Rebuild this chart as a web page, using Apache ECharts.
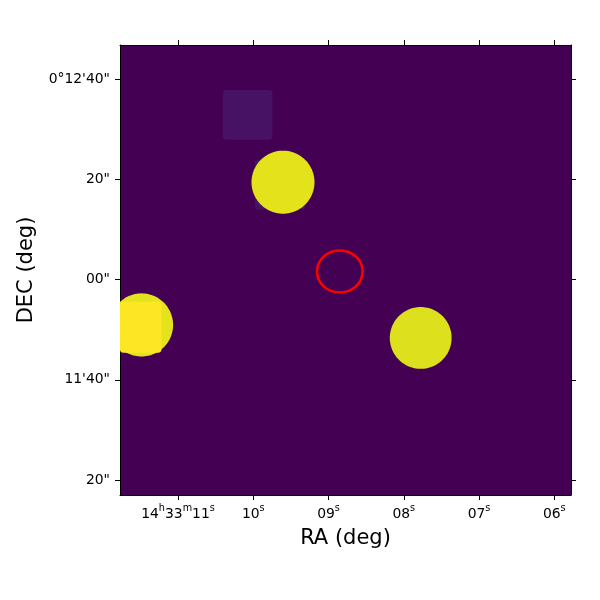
<!DOCTYPE html>
<html><head>
<meta charset="utf-8">
<title>RA / DEC cutout</title>
<script src="https://cdn.jsdelivr.net/npm/echarts@6/dist/echarts.min.js"></script>
<style>
html,body{margin:0;padding:0;background:#fff;}
#main{width:600px;height:600px;}
</style>
</head>
<body>
<div id="main"></div>
<script type="text/javascript">
// axis ticks: RA in seconds of time (14h33m..), DEC in arcsec above 0deg
var raTicks = [11, 10, 9, 8, 7, 6];
var raTickLabels = ['14h33m11s', '10s', '09s', '08s', '07s', '06s'];
var decTicks = [760, 740, 720, 700, 680];
var decTickLabels = ['0°12\'40"', '20"', '00"', '11\'40"', '20"'];
var raRange = [5.778, 11.771];
var decRange = [677.0, 766.85];

// bright sources (centre ra s, dec arcsec, radius arcsec)
var sourceRa = [9.605, 7.775, 11.485];
var sourceDec = [739.46, 708.36, 710.96];
var sourceRadius = [6.29, 6.17, 6.30];

// faint square patches (centre ra, dec, side arcsec)
var patchRa = [10.075, 9.645];
var patchDec = [752.9, 739.0];
var patchSide = [9.9, 10.0];

// saturated core patch
var coreRa = [11.56];
var coreDec = [710.5];
var coreSide = [10.2];

// region ellipse (centre ra, dec, semi axes arcsec)
var regionRa = [8.85];
var regionDec = [721.64];
var regionA = [4.55];
var regionB = [4.2];

var FONT = 'DejaVu Sans';
var myChart = echarts.init(document.getElementById('main'));

function zip() {
    var cols = Array.prototype.slice.call(arguments);
    return cols[0].map(function (v, i) {
        return cols.map(function (c) { return c[i]; });
    });
}

function frameRect(params) {
    var cs = params.coordSys;
    return { x: cs.x, y: cs.y, width: cs.width, height: cs.height };
}

function squareItem(color) {
    return function (params, api) {
        var c = api.coord([api.value(0), api.value(1)]);
        var s = api.size([0, api.value(2)])[1];
        var shape = echarts.graphic.clipRectByRect(
            { x: c[0] - s / 2, y: c[1] - s / 2, width: s, height: s }, frameRect(params));
        if (!shape) return;
        shape.r = s * 0.07;
        return { type: 'rect', shape: shape, style: { fill: color } };
    };
}

var tickStyle = { show: true, inside: false, length: 5, lineStyle: { color: '#000', width: 1 } };
var lineStyle = { show: true, lineStyle: { color: '#000', width: 1 } };

option = {
    backgroundColor: '#fff',
    animation: false,
    grid: { left: 120, right: 29, top: 45, bottom: 105, show: true, backgroundColor: '#440154', borderWidth: 0 },
    xAxis: [{
        type: 'value', min: raRange[0], max: raRange[1], inverse: true,
        name: 'RA (deg)', nameLocation: 'middle', nameGap: 33,
        nameTextStyle: { fontFamily: FONT, fontSize: 21, color: '#000' },
        axisLine: lineStyle,
        axisTick: Object.assign({ customValues: raTicks }, tickStyle),
        splitLine: { show: false },
        axisLabel: {
            customValues: raTicks, margin: 8,
            formatter: function (v) {
                var t = raTickLabels[raTicks.indexOf(v)];
                return t.replace(/(\d+)([hms])/g, '{n|$1}{s|$2}');
            },
            rich: {
                n: { fontFamily: FONT, fontSize: 13.9, color: '#000', lineHeight: 18, verticalAlign: 'bottom' },
                s: { fontFamily: FONT, fontSize: 9.7, color: '#000', lineHeight: 12, verticalAlign: 'top' }
            }
        }
    }, {
        type: 'value', position: 'top', min: raRange[0], max: raRange[1], inverse: true,
        axisLine: lineStyle,
        axisTick: Object.assign({ customValues: raTicks }, tickStyle),
        splitLine: { show: false }, axisLabel: { show: false }
    }],
    yAxis: [{
        type: 'value', min: decRange[0], max: decRange[1],
        name: 'DEC (deg)', nameLocation: 'middle', nameGap: 83,
        nameTextStyle: { fontFamily: FONT, fontSize: 21, color: '#000' },
        axisLine: lineStyle,
        axisTick: Object.assign({ customValues: decTicks }, tickStyle),
        splitLine: { show: false },
        axisLabel: {
            customValues: decTicks, margin: 10,
            fontFamily: FONT, fontSize: 13.9, color: '#000',
            formatter: function (v) { return decTickLabels[decTicks.indexOf(v)]; }
        }
    }, {
        type: 'value', position: 'right', min: decRange[0], max: decRange[1],
        axisLine: lineStyle,
        axisTick: Object.assign({ customValues: decTicks }, tickStyle),
        splitLine: { show: false }, axisLabel: { show: false }
    }],
    series: [
        {
            name: 'patches', type: 'custom', z: 1,
            data: zip(patchRa, patchDec, patchSide),
            renderItem: squareItem('#471263')
        },
        {
            name: 'sources', type: 'custom', z: 2,
            data: zip(sourceRa, sourceDec, sourceRadius),
            renderItem: function (params, api) {
                var c = api.coord([api.value(0), api.value(1)]);
                var r = api.size([0, api.value(2)])[1];
                var cols = ['#e3e21b', '#dde01c', '#e5e31d'];
                // outline of the disc, clamped to the frame
                var pts = [];
                for (var k = 0; k < 120; k++) {
                    var a = k / 120 * Math.PI * 2;
                    pts.push([c[0] + r * Math.cos(a), c[1] + r * Math.sin(a)]);
                }
                pts = echarts.graphic.clipPointsByRect(pts, frameRect(params));
                return { type: 'polygon', shape: { points: pts }, style: { fill: cols[params.dataIndex] } };
            }
        },
        {
            name: 'core', type: 'custom', z: 3,
            data: zip(coreRa, coreDec, coreSide),
            renderItem: squareItem('#fde725')
        },
        {
            name: 'region', type: 'custom', z: 4,
            data: zip(regionRa, regionDec, regionA, regionB),
            renderItem: function (params, api) {
                var c = api.coord([api.value(0), api.value(1)]);
                var ry = api.size([0, api.value(3)])[1];
                var rx = api.size([0, api.value(2)])[1];
                return {
                    type: 'ellipse',
                    shape: { cx: c[0], cy: c[1], rx: rx, ry: ry },
                    style: { fill: null, stroke: '#ff0000', lineWidth: 2.5 }
                };
            }
        }
    ]
};

myChart.setOption(option);
</script>
</body>
</html>
